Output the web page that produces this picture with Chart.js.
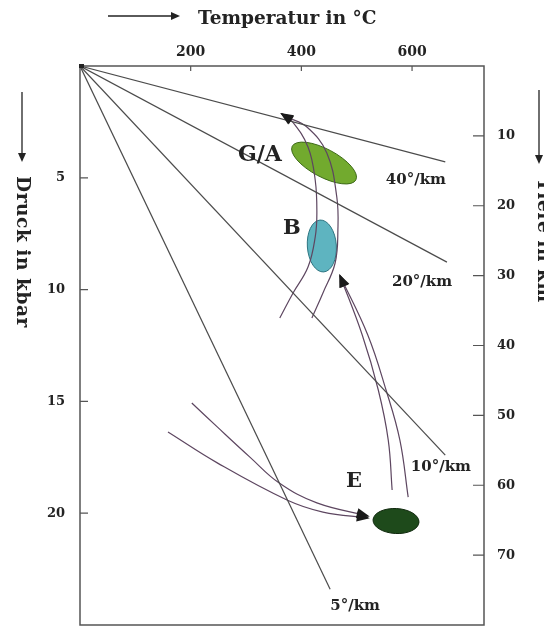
<!DOCTYPE html>
<html>
<head>
<meta charset="utf-8">
<script src="https://cdn.jsdelivr.net/npm/chart.js@4.4.0/dist/chart.umd.min.js"></script>
<style>
  html, body { margin: 0; padding: 0; background: #fff; overflow: hidden; }
  #pt { display: block; }
</style>
</head>
<body>
<canvas id="pt" width="544" height="626"></canvas>
<script>
// axis ticks
const tempTicks = [200, 400, 600];
const pressureTicks = [5, 10, 15, 20];
const depthTicks = [10, 20, 30, 40, 50, 60, 70];

// geotherms, all starting at the origin
const geothermNames = ["40°/km", "20°/km", "10°/km", "5°/km"];
const geothermEndT = [660, 663, 660, 452];
const geothermEndP = [4.29, 8.77, 17.4, 23.4];

// P-T paths (temperature °C, pressure kbar)
const pathE1T = [159, 248, 374, 439, 520];
const pathE1P = [16.37, 17.75, 19.41, 19.95, 20.21];
const pathE2T = [202, 248, 307, 360, 428, 520];
const pathE2P = [15.07, 16.14, 17.49, 18.65, 19.54, 20.12];
const pathB1T = [564, 557, 539, 510, 470];
const pathB1P = [18.96, 16.73, 14.49, 12.03, 9.39];
const pathB2T = [593, 578, 553, 520, 470];
const pathB2P = [19.28, 16.73, 14.49, 12.03, 9.39];
const pathA1T = [361, 385, 412, 425, 428, 425, 412, 383, 365];
const pathA1P = [11.27, 10.15, 8.99, 7.65, 6.57, 5.10, 3.62, 2.46, 2.15];
const pathA2T = [419, 439, 461, 466, 464, 446, 410, 374, 365];
const pathA2P = [11.27, 10.15, 8.81, 7.33, 5.86, 3.89, 2.73, 2.28, 2.15];

// metamorphic fields (centre)
const fieldNames = ["G/A", "B", "E"];
const fieldT = [441, 437, 571];
const fieldP = [4.34, 8.05, 20.35];

// text labels in the plot
const labelText = ["G/A", "B", "E", "40°/km", "20°/km", "10°/km", "5°/km"];
const labelT = [325, 383, 495, 607, 618, 652, 497];
const labelP = [3.98, 7.29, 18.6, 5.10, 9.66, 17.93, 24.15];

const ink = "#232323";
const serif = "'DejaVu Serif', 'Liberation Serif', serif";

const fieldStyle = [
  { rx: 36, ry: 14, rot: 28, fill: "#72aa2e", stroke: "#3d6a18" },
  { rx: 14.5, ry: 26, rot: -4, fill: "#5eb4c0", stroke: "#2c7480" },
  { rx: 23, ry: 12.5, rot: 3, fill: "#1e4a1b", stroke: "#10290e" }
];
const labelFont = [
  "bold 22px " + serif, "bold 21px " + serif, "bold 21px " + serif,
  "bold 15px " + serif, "bold 15px " + serif, "bold 15px " + serif, "bold 15px " + serif
];

function pts(T, P) {
  return T.map((t, i) => ({ x: t, y: P[i] }));
}

const datasets = [];
geothermNames.forEach((name, i) => {
  datasets.push({
    label: name,
    data: [{ x: 0, y: 0 }, { x: geothermEndT[i], y: geothermEndP[i] }],
    showLine: true, borderColor: "#4b4b4b", borderWidth: 1.2,
    pointRadius: 0, tension: 0
  });
});
[[pathE1T, pathE1P], [pathE2T, pathE2P], [pathB1T, pathB1P], [pathB2T, pathB2P],
 [pathA1T, pathA1P], [pathA2T, pathA2P]].forEach(p => {
  datasets.push({
    label: "path",
    data: pts(p[0], p[1]),
    showLine: true, borderColor: "#5d4660", borderWidth: 1.2,
    pointRadius: 0, tension: 0.4, arrow: true
  });
});

const decor = {
  id: "decor",
  beforeDatasetsDraw(chart) {
    const ctx = chart.ctx, x = chart.scales.x, y = chart.scales.y;
    ctx.save();
    fieldNames.forEach((n, i) => {
      const s = fieldStyle[i];
      ctx.beginPath();
      ctx.ellipse(x.getPixelForValue(fieldT[i]), y.getPixelForValue(fieldP[i]),
        s.rx, s.ry, s.rot * Math.PI / 180, 0, Math.PI * 2);
      ctx.fillStyle = s.fill;
      ctx.fill();
      ctx.lineWidth = 1;
      ctx.strokeStyle = s.stroke;
      ctx.stroke();
    });
    ctx.restore();
  },
  afterDatasetsDraw(chart) {
    const ctx = chart.ctx, a = chart.chartArea;
    const x = chart.scales.x, y = chart.scales.y, y2 = chart.scales.y2;
    ctx.save();
    // arrow heads at path ends
    chart.data.datasets.forEach((ds, i) => {
      if (!ds.arrow) return;
      const pts = chart.getDatasetMeta(i).data;
      const p1 = pts[pts.length - 2], p2 = pts[pts.length - 1];
      const ang = Math.atan2(p2.y - p1.y, p2.x - p1.x);
      ctx.save();
      ctx.translate(p2.x, p2.y);
      ctx.rotate(ang);
      ctx.beginPath();
      ctx.moveTo(2, 0);
      ctx.lineTo(-11, -5);
      ctx.lineTo(-11, 5);
      ctx.closePath();
      ctx.fillStyle = "#1a1a1a";
      ctx.fill();
      ctx.restore();
    });
    // frame
    ctx.strokeStyle = "#555";
    ctx.lineWidth = 1.5;
    ctx.strokeRect(a.left, a.top, a.right - a.left, a.bottom - a.top);
    // inward ticks
    ctx.lineWidth = 1.2;
    ctx.beginPath();
    tempTicks.forEach(v => {
      const px = x.getPixelForValue(v);
      ctx.moveTo(px, a.top); ctx.lineTo(px, a.top + 5);
    });
    pressureTicks.forEach(v => {
      const py = y.getPixelForValue(v);
      ctx.moveTo(a.left, py); ctx.lineTo(a.left + 8, py);
    });
    depthTicks.forEach(v => {
      const py = y2.getPixelForValue(v);
      ctx.moveTo(a.right, py); ctx.lineTo(a.right - 11, py);
    });
    ctx.stroke();
    // origin dot
    ctx.fillStyle = "#222";
    ctx.fillRect(a.left - 1, a.top - 2, 5, 4);
    // labels
    ctx.fillStyle = ink;
    ctx.textAlign = "center";
    ctx.textBaseline = "middle";
    labelText.forEach((t, i) => {
      ctx.font = labelFont[i];
      ctx.fillText(t, x.getPixelForValue(labelT[i]), y.getPixelForValue(labelP[i]));
    });
    ctx.restore();
  },
  afterDraw(chart) {
    const ctx = chart.ctx;
    ctx.save();
    ctx.fillStyle = ink;
    ctx.strokeStyle = ink;
    ctx.lineWidth = 1.3;
    function arrow(x1, y1, x2, y2) {
      const ang = Math.atan2(y2 - y1, x2 - x1);
      ctx.beginPath();
      ctx.moveTo(x1, y1); ctx.lineTo(x2, y2);
      ctx.stroke();
      ctx.save();
      ctx.translate(x2, y2);
      ctx.rotate(ang);
      ctx.beginPath();
      ctx.moveTo(2, 0); ctx.lineTo(-7, -4); ctx.lineTo(-7, 4);
      ctx.closePath();
      ctx.fill();
      ctx.restore();
    }
    ctx.font = "bold 18.5px " + serif;
    ctx.textBaseline = "middle";
    ctx.textAlign = "left";
    arrow(108, 16, 178, 16);
    ctx.fillText("Temperatur in °C", 198, 19);

    ctx.letterSpacing = "0.6px";
    arrow(22, 92, 22, 160);
    ctx.save();
    ctx.translate(22, 176);
    ctx.rotate(Math.PI / 2);
    ctx.fillText("Druck in kbar", 0, 0);
    ctx.restore();

    arrow(539, 90, 539, 162);
    ctx.save();
    ctx.translate(543, 178);
    ctx.rotate(Math.PI / 2);
    ctx.fillText("Tiefe in km", 0, 0);
    ctx.restore();
    ctx.restore();
  }
};

const tickFont = { family: serif, size: 13, weight: "bold" };
const noGrid = { display: false, drawTicks: false };
// keep the frame flush with the canvas: drop the label padding Chart.js adds
function fixVertical(width) {
  return s => { s.width = width; s.paddingTop = 0; s.paddingBottom = 0; };
}

new Chart(document.getElementById("pt"), {
  type: "scatter",
  data: { datasets },
  options: {
    responsive: false,
    animation: false,
    events: [],
    layout: { padding: { top: 0, left: 0, right: 0, bottom: 1 } },
    plugins: { legend: { display: false }, tooltip: { enabled: false } },
    scales: {
      x: {
        type: "linear", position: "top", min: 0, max: 730,
        grid: noGrid, border: { display: false },
        afterBuildTicks: s => { s.ticks = tempTicks.map(v => ({ value: v })); },
        afterFit: s => { s.height = 66; s.paddingLeft = 0; s.paddingRight = 0; },
        ticks: { color: ink, font: { ...tickFont, size: 14 }, padding: 5 }
      },
      y: {
        type: "linear", position: "left", min: 0, max: 25, reverse: true,
        grid: noGrid, border: { display: false },
        afterBuildTicks: s => { s.ticks = pressureTicks.map(v => ({ value: v })); },
        afterFit: fixVertical(80),
        ticks: { color: ink, font: tickFont, padding: 15 }
      },
      y2: {
        type: "linear", position: "right", min: 0, max: 80, reverse: true,
        grid: noGrid, border: { display: false },
        afterBuildTicks: s => { s.ticks = depthTicks.map(v => ({ value: v })); },
        afterFit: fixVertical(60),
        ticks: { color: ink, font: tickFont, padding: 13 }
      }
    }
  },
  plugins: [decor]
});
</script>
</body>
</html>
